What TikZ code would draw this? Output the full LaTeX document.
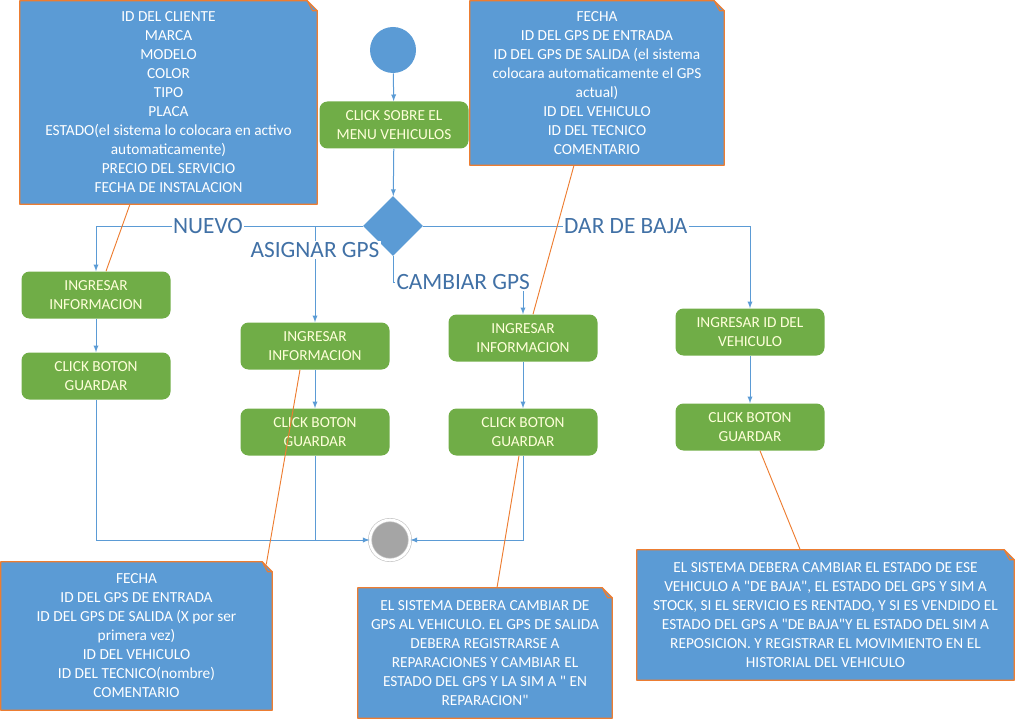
\documentclass[tikz,border=0pt]{standalone}
\usepackage{fontspec}
\setmainfont{Carlito}
\usetikzlibrary{arrows,shapes.geometric,calc}
\definecolor{nota_azul}{RGB}{91,155,213}
\definecolor{nota_borde}{RGB}{237,125,49}
\definecolor{accion_verde}{RGB}{112,173,71}
\definecolor{accion_texto}{RGB}{255,255,218}
\definecolor{flujo_azul}{RGB}{91,155,213}
\definecolor{etiqueta_azul}{RGB}{65,113,166}
\definecolor{fin_gris}{RGB}{165,165,165}
\newcommand{\cq}{\textquotedbl}
\tikzstyle{accion}=[rectangle,rounded corners=6pt,fill=accion_verde,text=accion_texto,
  align=center,minimum width=111.75pt,minimum height=35.25pt,inner sep=0pt,
  font=\fontsize{11.5}{14.25}\selectfont]
\tikzstyle{nota}=[rectangle,fill=nota_azul,text=white,align=center,inner sep=0pt,
  font=\fontsize{11.5}{14.25}\selectfont]
\tikzstyle{borde}=[draw=nota_borde,line width=0.9pt,line join=round]
\tikzstyle{flujo}=[draw=flujo_azul,line width=0.75pt,-latex]
\tikzstyle{linea}=[draw=flujo_azul,line width=0.75pt]
\tikzstyle{ancla}=[draw=nota_borde,line width=0.7pt]
\tikzstyle{etiqueta}=[fill=white,text=etiqueta_azul,inner sep=1pt,
  font=\fontsize{17.5}{20}\selectfont]

\begin{document}
\begin{tikzpicture}[x=0.75pt,y=-0.75pt]
        \useasboundingbox (0,0) rectangle (1019,720);
        % notas
        \node[style=nota,minimum width=222.75pt,minimum height=152.25pt] (notaCliente) at (168.5,102.5)
          {ID DEL CLIENTE\\MARCA\\MODELO\\COLOR\\TIPO\\PLACA\\ESTADO(el sistema lo colocara en activo\\automaticamente)\\PRECIO DEL SERVICIO\\FECHA DE INSTALACION};
        \node[style=nota,minimum width=190.5pt,minimum height=123pt] (notaSalida) at (597,83)
          {FECHA\\ID DEL GPS DE ENTRADA\\ID DEL GPS DE SALIDA (el sistema\\colocara automaticamente el GPS\\actual)\\ID DEL VEHICULO\\ID DEL TECNICO\\COMENTARIO};
        \node[style=nota,minimum width=203.25pt,minimum height=111pt] (notaAsignar) at (136.5,636)
          {FECHA\\ID DEL GPS DE ENTRADA\\ID DEL GPS DE SALIDA (X por ser\\primera vez)\\ID DEL VEHICULO\\ID DEL TECNICO(nombre)\\COMENTARIO};
        \node[style=nota,minimum width=190.5pt,minimum height=97.5pt] (notaCambio) at (485,653)
          {EL SISTEMA DEBERA CAMBIAR DE\\GPS AL VEHICULO. EL GPS DE SALIDA\\DEBERA REGISTRARSE A\\REPARACIONES Y CAMBIAR EL\\ESTADO DEL GPS Y LA SIM A \cq{} EN\\REPARACION\cq};
        \node[style=nota,minimum width=282.75pt,minimum height=97.5pt] (notaBaja) at (825.5,615)
          {EL SISTEMA DEBERA CAMBIAR EL ESTADO DE ESE\\VEHICULO A \cq{}DE BAJA\cq, EL ESTADO DEL GPS Y SIM A\\STOCK, SI EL SERVICIO ES RENTADO, Y SI ES VENDIDO EL\\ESTADO DEL GPS A \cq{}DE BAJA\cq{}Y EL ESTADO DEL SIM A\\REPOSICION. Y REGISTRAR EL MOVIMIENTO EN EL\\HISTORIAL DEL VEHICULO};
        \foreach \n in {notaCliente,notaSalida,notaAsignar,notaCambio,notaBaja} {
          \fill[white] ([xshift=-7.5pt]\n.north east) -- (\n.north east) -- ([yshift=-7.5pt]\n.north east) -- cycle;
          \draw[style=borde] (\n.south west) -- (\n.north west) -- ([xshift=-7.5pt]\n.north east)
            -- ([yshift=-7.5pt]\n.north east) -- (\n.south east) -- cycle;
          \draw[style=borde] ([xshift=-7.5pt]\n.north east) -- ([xshift=-3.5pt,yshift=-7.5pt]\n.north east)
            -- ([yshift=-7.5pt]\n.north east);
        }
        % flujo
        \node[circle,fill=nota_azul,minimum size=34.5pt,inner sep=0pt] (inicio) at (393,50) {};
        \node[style=accion] (menu) at (394,125) {CLICK SOBRE EL\\MENU VEHICULOS};
        \node[diamond,fill=nota_azul,minimum width=45pt,minimum height=45pt,inner sep=0pt] (decision) at (393,226) {};
        \node[style=accion] (nuevoIng) at (96,295) {INGRESAR\\INFORMACION};
        \node[style=accion] (nuevoGuardar) at (96,376) {CLICK BOTON\\GUARDAR};
        \node[style=accion] (asigIng) at (315,346) {INGRESAR\\INFORMACION};
        \node[style=accion] (asigGuardar) at (315,432) {CLICK BOTON\\GUARDAR};
        \node[style=accion] (cambIng) at (523,338) {INGRESAR\\INFORMACION};
        \node[style=accion] (cambGuardar) at (523,432) {CLICK BOTON\\GUARDAR};
        \node[style=accion] (bajaIng) at (750,332) {INGRESAR ID DEL\\VEHICULO};
        \node[style=accion] (bajaGuardar) at (750,427) {CLICK BOTON\\GUARDAR};
        \node[circle,fill=fin_gris,draw=gray!45,double=white,double distance=2pt,line width=0.5pt,
          minimum size=30pt,inner sep=0pt] (fin) at (390,540) {};
        \coordinate (ramaA) at (315,226);
        \coordinate (ramaC) at (523,282);
        \draw[style=flujo] (inicio) -- (menu);
        \draw[style=flujo] (menu) -- (decision);
        \draw[style=flujo] (decision.west) -| node[style=etiqueta,pos=0.29] {NUEVO} (nuevoIng);
        \draw[style=flujo] (ramaA) -- node[style=etiqueta,pos=0.25] {ASIGNAR GPS} (asigIng);
        \draw[style=flujo] (decision.south) |- node[style=etiqueta,pos=0.77] {CAMBIAR GPS} (ramaC) -- (cambIng);
        \draw[style=flujo] (decision.east) -| node[style=etiqueta,pos=0.31] {DAR DE BAJA} (bajaIng);
        \draw[style=flujo] (nuevoIng) -- (nuevoGuardar);
        \draw[style=flujo] (asigIng) -- (asigGuardar);
        \draw[style=flujo] (cambIng) -- (cambGuardar);
        \draw[style=flujo] (bajaIng) -- (bajaGuardar);
        \draw[style=flujo] (nuevoGuardar) |- (fin);
        \draw[style=linea] (asigGuardar) -- (asigGuardar |- fin);
        \draw[style=flujo] (cambGuardar) |- (fin);
        % anclas de notas
        \draw[style=ancla] ([xshift=-28.9pt]notaCliente.south) -- ([xshift=7.5pt]nuevoIng.north);
        \draw[style=ancla] ([xshift=-17.25pt]notaSalida.south) -- ([xshift=7.5pt]cambIng.north);
        \draw[style=ancla] ([xshift=-11.25pt]asigIng.south) -- ([xshift=-4.5pt,yshift=-2pt]notaAsignar.north east);
        \draw[style=ancla] ([xshift=-3pt]cambGuardar.south) -- ([xshift=9pt]notaCambio.north);
        \draw[style=ancla] ([xshift=7.5pt]bajaGuardar.south) -- ([xshift=-19pt]notaBaja.north);
    \end{tikzpicture}
\end{document}
